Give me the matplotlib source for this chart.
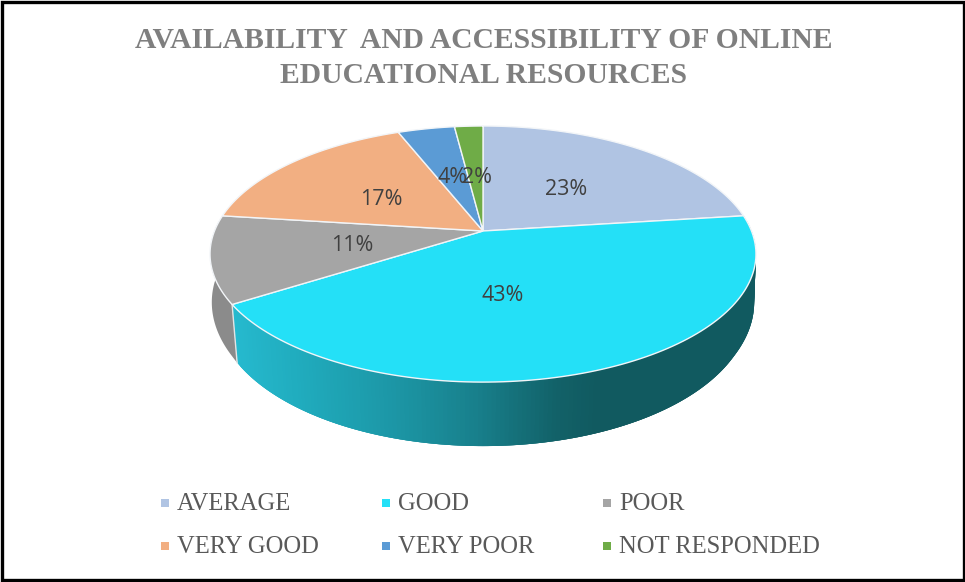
import numpy as np
import matplotlib
matplotlib.use("Agg")
import matplotlib.pyplot as plt
from matplotlib.patches import Rectangle

title = "AVAILABILITY  AND ACCESSIBILITY OF ONLINE\nEDUCATIONAL RESOURCES"
categories = ["AVERAGE", "GOOD", "POOR", "VERY GOOD", "VERY POOR", "NOT RESPONDED"]
values = [23, 43, 11, 17, 4, 2]
colors = ["#B0C4E3", "#24E0F7", "#A5A5A5", "#F2AF82", "#5B9BD5", "#6FAC47"]

# nudges of the percent labels from the default spot, in pixels
label_nudge = [(0, 2), (-30, 1), (3, 1), (-1, 4), (0, 2), (2, 3)]

# pie geometry in image pixels
cx, cy = 483, 231
A, B, p = 268.5, 123.9, 0.18


def rim(a, r=1.0):
    # circle seen in perspective, a in degrees
    x = r * np.cos(np.radians(a))
    y = r * np.sin(np.radians(a))
    w = 1 + p * y
    return cx + A * x / w, cy - B * y / w


def rim_low(a):
    # rim of the bottom face, a bit narrower towards the front
    x, y = rim(a)
    s = np.sin(np.radians(a))
    k = np.clip(1 + 0.04 * s, 0.98, 1.0)
    return cx + (x - cx) * k, y + 51.5 - 12.5 * s


def wall_color(x):
    stops_x = [232, 300, 400, 480, 560, 600, 760]
    r = [38, 32, 28, 24, 18, 17, 17]
    g = [186, 172, 150, 128, 98, 90, 90]
    b = [207, 190, 165, 140, 105, 96, 96]
    return (np.interp(x, stops_x, r) / 255, np.interp(x, stops_x, g) / 255, np.interp(x, stops_x, b) / 255)


fig = plt.figure(figsize=(9.65, 5.82), dpi=100)
ax = fig.add_axes([0, 0, 1, 1])
ax.set_xlim(0, 965)
ax.set_ylim(582, 0)
ax.axis("off")

fractions = np.cumsum([0] + values) / sum(values)
starts = 90 - 360 * fractions[:-1]
ends = 90 - 360 * fractions[1:]

# side wall, only the front part shows
# good wall is painted left to right so each strip overlaps the one before
a_good = np.linspace(ends[1], starts[1], 200)
for j in range(len(a_good) - 1):
    a0 = a_good[j]
    a1 = a_good[min(j + 3, len(a_good) - 1)]
    x0, y0 = rim(a0)
    x1, y1 = rim(a1)
    x2, y2 = rim_low(a1)
    x3, y3 = rim_low(a0)
    ax.fill([x0, x1, x2, x3], [y0, y1, y2, y3], color=wall_color((x0 + x1) / 2), lw=0, zorder=2)

a_poor = np.linspace(starts[2], ends[2], 60)
xs, ys = rim(a_poor)
xl, yl = rim_low(a_poor)
ax.fill(np.r_[xs, xl[::-1]], np.r_[ys, yl[::-1]], color="#8B8B8B", lw=0, zorder=1)

# light edge between the good and poor walls
xa, ya = rim(ends[1])
xb, yb = rim_low(ends[1])
ax.plot([xa, xb], [ya, yb], color="#E4E4E4", lw=1, zorder=3)

# top face
for i in range(len(values)):
    angles = np.linspace(starts[i], ends[i], 120)
    xs, ys = rim(angles)
    ax.fill(np.r_[cx, xs], np.r_[cy, ys], facecolor=colors[i], edgecolor="#F2F5F8", lw=1, zorder=4)

# percent labels
for i in range(len(values)):
    mid = (starts[i] + ends[i]) / 2
    x, y = rim(mid, 0.5)
    ax.text(x + label_nudge[i][0], y + label_nudge[i][1], f"{values[i]}%", ha="center", va="center",
            fontsize=15.5, color="#404040", family="Open Sans", zorder=6)

ax.text(483.5, 58, title, ha="center", va="center", fontsize=21.35, fontweight="bold",
        family="Liberation Serif", color="#7F7F7F", linespacing=1.41, zorder=6)

# legend, three columns by two rows
for i in range(len(categories)):
    col = i % 3
    row = i // 3
    lx = 165 + col * 221
    ly = 503 + row * 42.5
    ax.scatter([lx], [ly], marker="s", s=30, color=colors[i], zorder=6, linewidths=0)
    ax.text(lx + 12, ly + 1.5, categories[i], ha="left", va="center", fontsize=17.75,
            family="Liberation Serif", color="#595959", zorder=6)

ax.add_patch(Rectangle((1.5, 1.5), 962, 578, fill=False, edgecolor="black", lw=2.4, zorder=7))

fig.savefig("out.png", dpi=100)
